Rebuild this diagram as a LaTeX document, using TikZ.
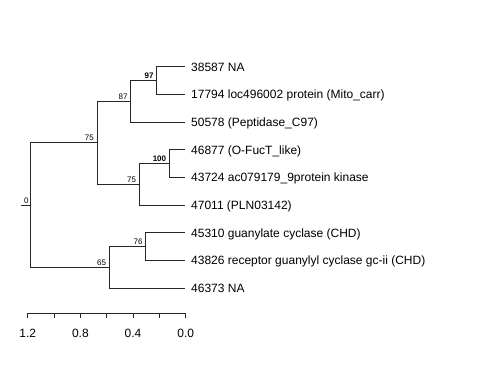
\documentclass[tikz,border=0pt]{standalone}
\usepackage{fontspec}
\setmainfont{Liberation Sans}
\usetikzlibrary{calc}
\tikzset{
  branch/.style={draw=black!85, line width=0.7pt},
  leaflabel/.style={anchor=base west, inner sep=0pt, font=\fontsize{12}{14}\selectfont},
  support/.style={anchor=base east, inner sep=0pt, font=\fontsize{8}{9.6}\selectfont},
  scalelabel/.style={anchor=base, inner sep=0pt, font=\fontsize{12}{14}\selectfont}
}

\begin{document}
\begin{tikzpicture}[x=1pt, y=-1pt]
        \useasboundingbox (0,0) rectangle (480,384);

        % Leaf tips
        \coordinate (l1) at (185,66.8);
        \coordinate (l2) at (185,94.45);
        \coordinate (l3) at (185,122.1);
        \coordinate (l4) at (185,149.75);
        \coordinate (l5) at (185,177.4);
        \coordinate (l6) at (185,205.05);
        \coordinate (l7) at (185,232.7);
        \coordinate (l8) at (185,260.35);
        \coordinate (l9) at (185,288);

        % Inner nodes
        \coordinate (n97) at (156.7,80.6);
        \coordinate (n87) at (130.7,101.3);
        \coordinate (n100) at (169.3,163.6);
        \coordinate (n75b) at (139.3,184.3);
        \coordinate (n75a) at (97,142.8);
        \coordinate (n76) at (145.7,246.5);
        \coordinate (n65) at (109.3,267.3);
        \coordinate (root) at (30.7,205);
        \coordinate (stub) at (20.7,205);

        % Draw the branches
        \draw[branch] (root) -- (stub);
        \draw[branch] (root) |- (n75a);
        \draw[branch] (root) |- (n65);
        \draw[branch] (n75a) |- (n87);
        \draw[branch] (n75a) |- (n75b);
        \draw[branch] (n87) |- (n97);
        \draw[branch] (n87) |- (l3);
        \draw[branch] (n97) |- (l1);
        \draw[branch] (n97) |- (l2);
        \draw[branch] (n75b) |- (n100);
        \draw[branch] (n75b) |- (l6);
        \draw[branch] (n100) |- (l4);
        \draw[branch] (n100) |- (l5);
        \draw[branch] (n65) |- (n76);
        \draw[branch] (n65) |- (l9);
        \draw[branch] (n76) |- (l7);
        \draw[branch] (n76) |- (l8);

        % Leaf labels
        \node[leaflabel] (t1) at ([xshift=6pt, yshift=-4.3pt]l1) {38587 NA};
        \node[leaflabel] (t2) at ([xshift=6pt, yshift=-4.3pt]l2) {17794 loc496002 protein (Mito\_carr)};
        \node[leaflabel] (t3) at ([xshift=6pt, yshift=-4.3pt]l3) {50578 (Peptidase\_C97)};
        \node[leaflabel] (t4) at ([xshift=6pt, yshift=-4.3pt]l4) {46877 (O-FucT\_like)};
        \node[leaflabel] (t5) at ([xshift=6pt, yshift=-4.3pt]l5) {43724 ac079179\_9protein kinase};
        \node[leaflabel] (t6) at ([xshift=6pt, yshift=-4.3pt]l6) {47011 (PLN03142)};
        \node[leaflabel] (t7) at ([xshift=6pt, yshift=-4.3pt]l7) {45310 guanylate cyclase (CHD)};
        \node[leaflabel] (t8) at ([xshift=6pt, yshift=-4.3pt]l8) {43826 receptor guanylyl cyclase gc-ii (CHD)};
        \node[leaflabel] (t9) at ([xshift=6pt, yshift=-4.3pt]l9) {46373 NA};

        % Support values
        \node[support] (s97) at ([xshift=-3pt, yshift=2pt]n97) {\bfseries 97};
        \node[support] (s87) at ([xshift=-3pt, yshift=2pt]n87) {87};
        \node[support] (s100) at ([xshift=-3pt, yshift=2pt]n100) {\bfseries 100};
        \node[support] (s75b) at ([xshift=-3pt, yshift=2pt]n75b) {75};
        \node[support] (s75a) at ([xshift=-3pt, yshift=2pt]n75a) {75};
        \node[support] (s76) at ([xshift=-3pt, yshift=2pt]n76) {76};
        \node[support] (s65) at ([xshift=-3pt, yshift=2pt]n65) {65};
        \node[support] (s0) at ([xshift=-2pt, yshift=2pt]root) {0};

        % Draw the scale bar
        \coordinate (a0) at (27.7,313);
        \coordinate (a1) at (185.7,313);
        \draw[branch] (a0) -- (a1);
        \foreach \i in {0,...,6}
          \draw[branch] ($(a0)!\i/6!(a1)$) -- ++(0,5);
        \node[scalelabel] (v12) at (27.7,337.5) {1.2};
        \node[scalelabel] (v08) at (80.4,337.5) {0.8};
        \node[scalelabel] (v04) at (133,337.5) {0.4};
        \node[scalelabel] (v00) at (185.7,337.5) {0.0};
    \end{tikzpicture}
\end{document}
